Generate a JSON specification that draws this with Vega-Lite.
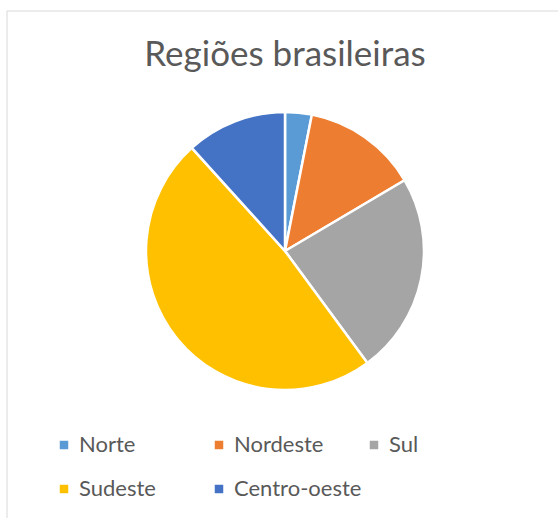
{
  "$schema": "https://vega.github.io/schema/vega-lite/v6.json",
  "width": 556,
  "height": 520,
  "autosize": {"type": "none"},
  "padding": {"left": 7, "top": 11, "right": -5, "bottom": -13},
  "background": "white",
  "title": {
    "text": "Regiões brasileiras",
    "orient": "top",
    "anchor": "middle",
    "frame": "group",
    "baseline": "alphabetic",
    "offset": -55,
    "dy": 35,
    "font": "Lato",
    "fontSize": 35,
    "fontWeight": "normal",
    "color": "#595959"
  },
  "layer": [
    {
      "data": {"values": [{"moldura": 1}]},
      "mark": {"type": "rect", "fill": "transparent", "stroke": "#D9D9D9", "strokeWidth": 1, "strokeDash": [556, 1076, 520]},
      "encoding": {}
    },
    {
      "data": {
        "values": [
          {"regiao": "Norte", "valor": 3.1, "ordem": 1},
          {"regiao": "Nordeste", "valor": 13.4, "ordem": 2},
          {"regiao": "Sul", "valor": 23.4, "ordem": 3},
          {"regiao": "Sudeste", "valor": 48.4, "ordem": 4},
          {"regiao": "Centro-oeste", "valor": 11.7, "ordem": 5}
        ]
      },
      "mark": {"type": "arc", "outerRadius": 139, "stroke": "white", "strokeWidth": 2.5, "yOffset": -20},
      "encoding": {
        "theta": {"field": "valor", "type": "quantitative", "stack": true},
        "order": {"field": "ordem", "type": "quantitative"},
        "color": {
          "field": "regiao",
          "type": "nominal",
          "sort": ["Norte", "Nordeste", "Sul", "Sudeste", "Centro-oeste"],
          "scale": {
            "domain": ["Norte", "Nordeste", "Sul", "Sudeste", "Centro-oeste"],
            "range": ["#5B9BD5", "#ED7D31", "#A5A5A5", "#FFC000", "#4472C4"]
          },
          "legend": {
            "orient": "none",
            "legendX": 46,
            "legendY": 423,
            "direction": "horizontal",
            "columns": 3,
            "gridAlign": "all",
            "columnPadding": 1,
            "rowPadding": 22,
            "symbolType": "square",
            "symbolSize": 72,
            "symbolStrokeWidth": 0,
            "labelFont": "Lato",
            "labelFontSize": 22,
            "labelColor": "#595959",
            "labelOffset": 4,
            "labelLimit": 0,
            "title": null,
            "padding": 0
          }
        }
      }
    }
  ]
}
